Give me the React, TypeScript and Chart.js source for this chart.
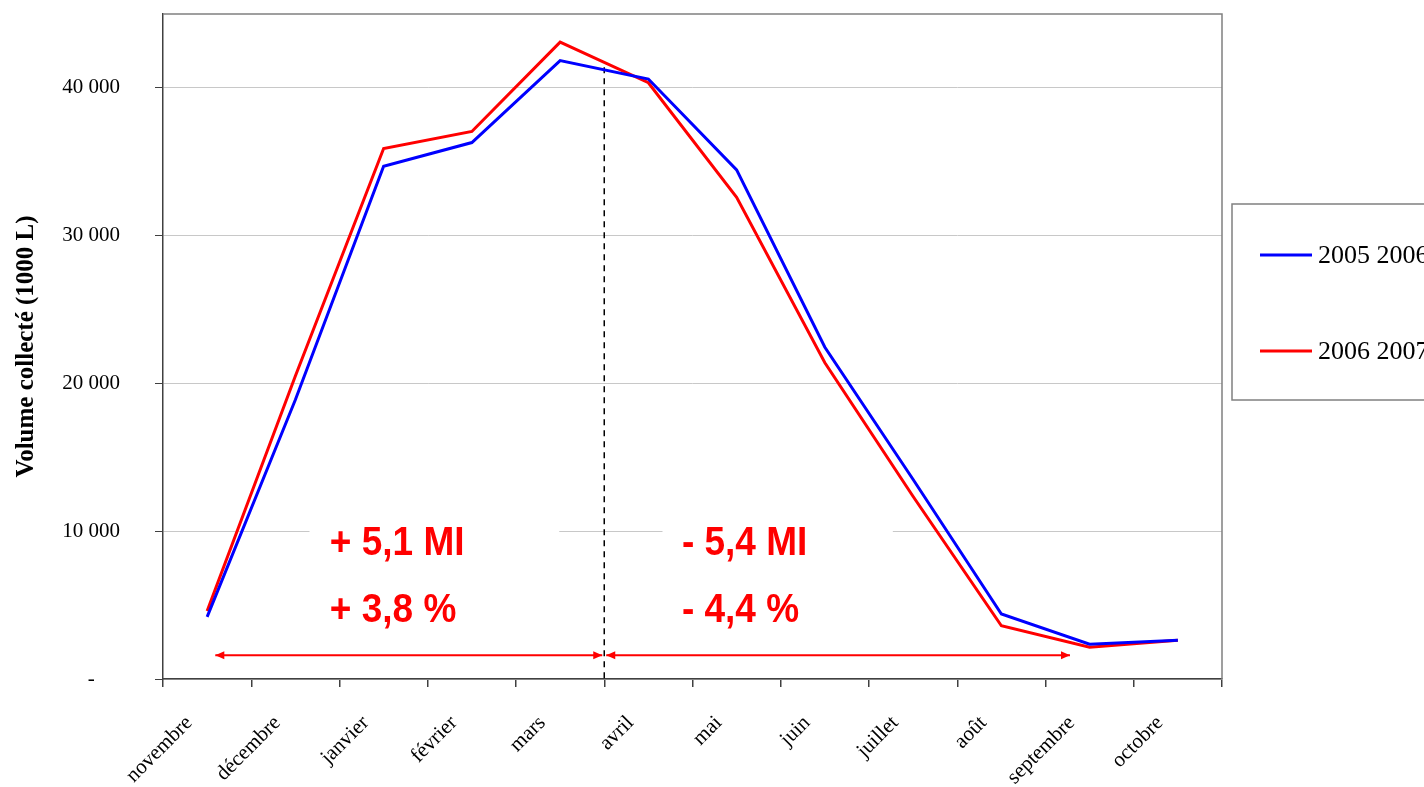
import React, { useEffect, useRef } from "react";
import { Chart, registerables } from "chart.js";

Chart.register(...registerables);

const months = [
  "novembre", "décembre", "janvier", "février", "mars", "avril",
  "mai", "juin", "juillet", "août", "septembre", "octobre",
];
const series2005_2006 = [4200, 18900, 34700, 36300, 41850, 40600, 34450, 22450, 13500, 4400, 2350, 2620];
const series2006_2007 = [4600, 20500, 35900, 37050, 43100, 40350, 32600, 21400, 12350, 3600, 2150, 2620];
const seriesLabels = ["2005 2006", "2006 2007"];
const yTickValues = [0, 10000, 20000, 30000, 40000];
const yMax = 45000;

// annotation anchors in data units (category index, value)
const splitIndex = 4.5;
const splitTopValue = 41400;
const arrowValue = 1600;
const leftArrow = [0.07, 4.5];
const rightArrow = [4.5, 9.8];
const leftTexts = ["+ 5,1 MI", "+ 3,8 %"];
const rightTexts = ["- 5,4 MI", "- 4,4 %"];
const textValues = [9150, 4650];
const leftTextIndex = 1.39;
const rightTextIndex = 5.38;
const leftBox = [1.16, 3.99];
const rightBox = [5.16, 7.77];
const boxValues = [11800, 3000];

const fmt = (v: number) =>
  v === 0 ? "-\u2007\u2007\u2009" : String(v).replace(/\B(?=(\d{3})+(?!\d))/g, "\u00a0");

const annotationPlugin = {
  id: "annots",
  beforeDatasetsDraw(chart: any) {
    const { ctx, chartArea, scales } = chart;
    const x = scales.x, y = scales.y;
    ctx.save();
    ctx.fillStyle = "#ffffff";
    for (const b of [leftBox, rightBox]) {
      const x0 = x.getPixelForValue(b[0]);
      const x1 = x.getPixelForValue(b[1]);
      const y0 = y.getPixelForValue(boxValues[0]);
      const y1 = y.getPixelForValue(boxValues[1]);
      ctx.fillRect(x0, y0, x1 - x0, y1 - y0);
    }
    ctx.strokeStyle = "#808080";
    ctx.lineWidth = 1.5;
    ctx.beginPath();
    ctx.moveTo(chartArea.left, chartArea.top);
    ctx.lineTo(chartArea.right, chartArea.top);
    ctx.lineTo(chartArea.right, chartArea.bottom);
    ctx.stroke();
    const sx = x.getPixelForValue(splitIndex);
    ctx.strokeStyle = "#000000";
    ctx.lineWidth = 1.5;
    ctx.setLineDash([6, 5]);
    ctx.beginPath();
    ctx.moveTo(sx, y.getPixelForValue(splitTopValue));
    ctx.lineTo(sx, chartArea.bottom);
    ctx.stroke();
    ctx.setLineDash([]);
    const ay = y.getPixelForValue(arrowValue);
    ctx.strokeStyle = "#ff0000";
    ctx.fillStyle = "#ff0000";
    ctx.lineWidth = 2;
    const head = (px: number, dir: number) => {
      ctx.beginPath();
      ctx.moveTo(px, ay);
      ctx.lineTo(px - dir * 9, ay - 4);
      ctx.lineTo(px - dir * 9, ay + 4);
      ctx.closePath();
      ctx.fill();
    };
    for (const a of [leftArrow, rightArrow]) {
      const p0 = x.getPixelForValue(a[0]) + 2;
      const p1 = x.getPixelForValue(a[1]) - 2;
      ctx.beginPath();
      ctx.moveTo(p0, ay);
      ctx.lineTo(p1, ay);
      ctx.stroke();
      head(p0, -1);
      head(p1, 1);
    }
    ctx.font = "bold 37px 'Liberation Sans', Arial, sans-serif";
    ctx.textAlign = "left";
    ctx.textBaseline = "middle";
    const drawTexts = (texts: string[], idx: number) => {
      texts.forEach((t, i) => {
        const tx = x.getPixelForValue(idx);
        const ty = y.getPixelForValue(textValues[i]);
        ctx.save();
        ctx.translate(tx, ty);
        ctx.scale(1, 1.1);
        ctx.fillText(t, 0, 0);
        ctx.restore();
      });
    };
    drawTexts(leftTexts, leftTextIndex);
    drawTexts(rightTexts, rightTextIndex);
    ctx.restore();
  },
  afterDraw(chart: any) {
    const { ctx, chartArea, data } = chart;
    ctx.save();
    const bx = chartArea.right + 10;
    const by = 204;
    const bw = 250;
    const bh = 196;
    ctx.fillStyle = "#ffffff";
    ctx.fillRect(bx, by, bw, bh);
    ctx.strokeStyle = "#808080";
    ctx.lineWidth = 1.5;
    ctx.strokeRect(bx, by, bw, bh);
    ctx.font = "26px 'Liberation Serif', 'Times New Roman', serif";
    ctx.textAlign = "left";
    ctx.textBaseline = "middle";
    data.datasets.forEach((ds: any, i: number) => {
      const ly = by + 51 + i * 96;
      ctx.strokeStyle = ds.borderColor;
      ctx.lineWidth = 3;
      ctx.beginPath();
      ctx.moveTo(bx + 28, ly);
      ctx.lineTo(bx + 80, ly);
      ctx.stroke();
      ctx.fillStyle = "#000000";
      ctx.fillText(ds.label, bx + 86, ly + 1);
    });
    ctx.restore();
  },
};

export default function App() {
  const ref = useRef<HTMLCanvasElement | null>(null);
  useEffect(() => {
    if (!ref.current) return;
    const chart = new Chart(ref.current, {
      type: "line",
      data: {
        labels: months,
        datasets: [
          {
            label: seriesLabels[0],
            data: series2005_2006,
            borderColor: "#0000ff",
            backgroundColor: "#0000ff",
            borderWidth: 3,
            pointRadius: 0,
            tension: 0,
          },
          {
            label: seriesLabels[1],
            data: series2006_2007,
            borderColor: "#ff0000",
            backgroundColor: "#ff0000",
            borderWidth: 3,
            pointRadius: 0,
            tension: 0,
          },
        ],
      },
      options: {
        animation: false,
        responsive: false,
        maintainAspectRatio: false,
        layout: { padding: { left: 0, right: 202, top: 14, bottom: 0 } },
        plugins: { legend: { display: false }, tooltip: { enabled: false } },
        scales: {
          x: {
            type: "category",
            offset: true,
            grid: {
              offset: true,
              drawOnChartArea: false,
              drawTicks: true,
              tickLength: 8,
              tickColor: "#404040",
              lineWidth: 1.5,
            },
            border: { color: "#404040", width: 1.5 },
            ticks: {
              color: "#000000",
              font: { family: "'Liberation Serif', 'Times New Roman', serif", size: 21 },
              minRotation: 45,
              maxRotation: 45,
              autoSkip: false,
              padding: 6,
              callback: (_v: any, i: number) => months[i] + "\u2003\u2009",
            },
            afterFit: (s: any) => {
              s.height = 108;
              s.paddingLeft = 0;
              s.paddingRight = 0;
              s.paddingTop = 0;
              s.paddingBottom = 0;
            },
          },
          y: {
            min: 0,
            max: yMax,
            afterBuildTicks: (s: any) => {
              s.ticks = yTickValues.map((v) => ({ value: v }));
            },
            grid: {
              color: "#c8c8c8",
              lineWidth: 1,
              drawTicks: true,
              tickLength: 8,
              tickColor: "#404040",
            },
            border: { color: "#404040", width: 1.5 },
            ticks: {
              color: "#000000",
              font: { family: "'Liberation Serif', 'Times New Roman', serif", size: 21 },
              padding: 35,
              callback: (v: any) => fmt(Number(v)),
            },
            title: {
              display: true,
              text: "Volume collecté (1000 L)",
              color: "#000000",
              font: { family: "'Liberation Serif', 'Times New Roman', serif", size: 25, weight: "bold" },
              padding: { top: 12, bottom: 0 },
            },
            afterFit: (s: any) => {
              s.width = 163;
              s.paddingTop = 0;
              s.paddingBottom = 0;
              s.paddingLeft = 0;
              s.paddingRight = 0;
            },
          },
        },
      },
      plugins: [annotationPlugin],
    });
    return () => chart.destroy();
  }, []);
  return (
    <div style={{ position: "fixed", left: 0, top: 0, width: 1424, height: 787, background: "#fff" }}>
      <canvas ref={ref} width={1424} height={787} style={{ width: 1424, height: 787, display: "block" }} />
    </div>
  );
}
